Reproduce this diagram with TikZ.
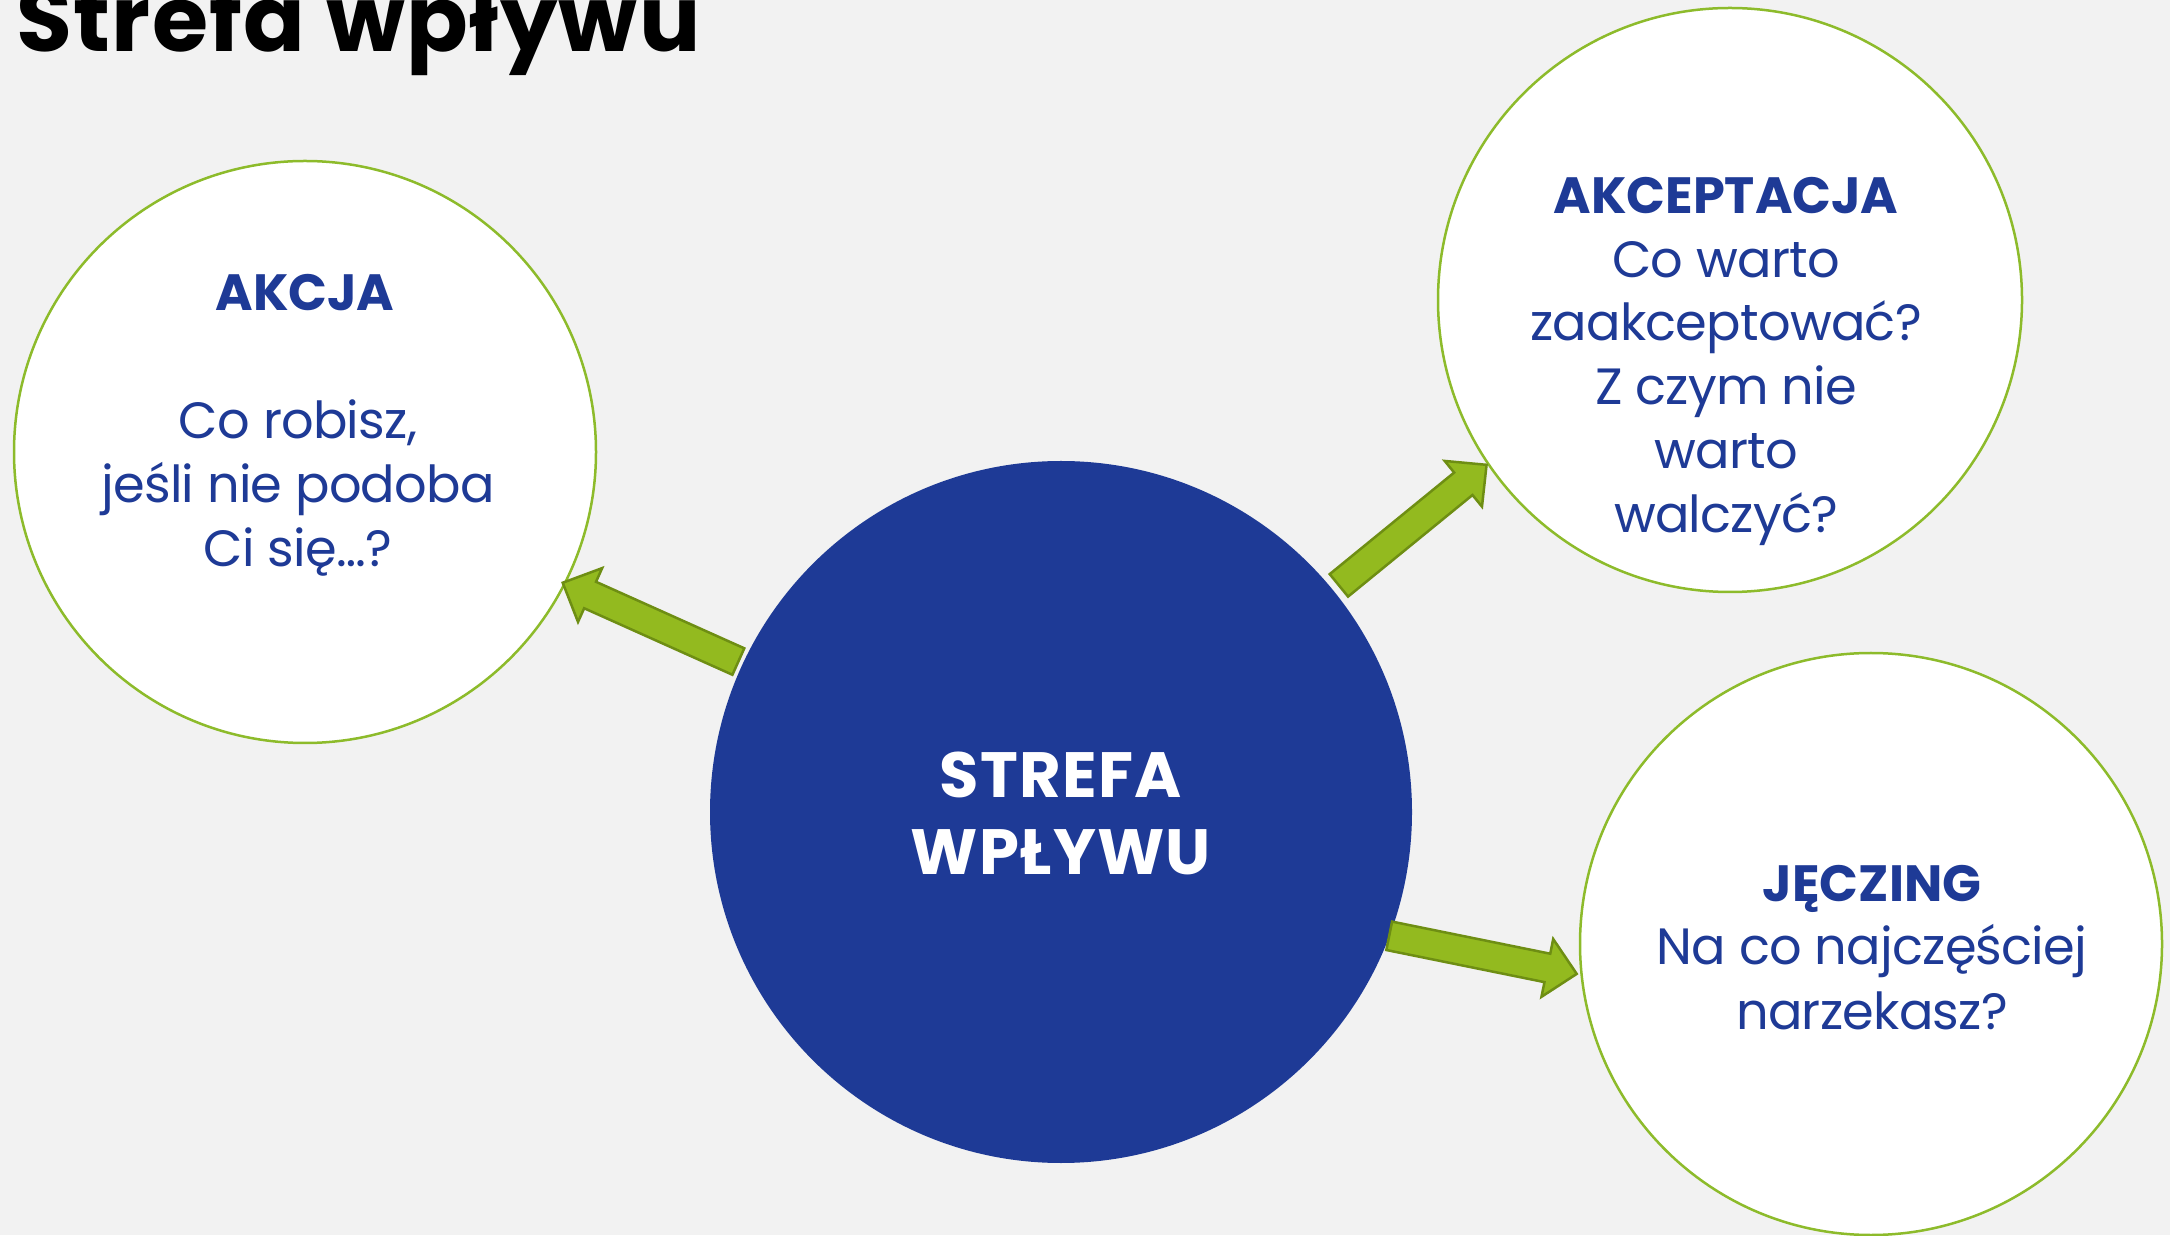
\documentclass[tikz,border=0pt]{standalone}
\usepackage{fontspec}
\setmainfont{Poppins}
\newfontfamily\bodyfont[LetterSpace=-1.5]{Poppins}
\newfontfamily\titlefont[LetterSpace=1.5]{Poppins}
\newfontfamily\corefont[LetterSpace=2]{Poppins}
\usetikzlibrary{calc}
\definecolor{bgc}{HTML}{F2F2F2}
\definecolor{navy}{HTML}{1E3A96}
\definecolor{ringgreen}{HTML}{8DBB2B}
\definecolor{arrowfill}{HTML}{93BA1F}
\definecolor{arrowline}{HTML}{6E8E13}
\tikzset{
  ring/.style={circle, draw=ringgreen, line width=2.5pt, fill=white, inner sep=0pt, outer sep=0pt},
  core/.style={circle, fill=navy, inner sep=0pt, outer sep=0pt},
  body/.style={inner sep=0pt, anchor=base, text=navy, font=\bodyfont\fontsize{51}{64}\selectfont},
  head/.style={inner sep=0pt, anchor=base, text=navy, font=\fontsize{51}{64}\selectfont\bfseries},
  corehead/.style={inner sep=0pt, anchor=base, text=white, font=\corefont\fontsize{64}{76}\selectfont\bfseries},
  blockarrowstyle/.style={fill=arrowfill, draw=arrowline, line width=2.5pt, line join=miter}
}
\newcommand\blockarrow[2]{%
  \coordinate (bah) at ($(#2)!30pt!(#1)$);
  \filldraw[blockarrowstyle] ($(#1)!14.5pt!90:(#2)$) -- ($(bah)!14.5pt!90:(#2)$) -- ($(bah)!29.5pt!90:(#2)$) -- (#2) -- ($(bah)!29.5pt!-90:(#2)$) -- ($(bah)!14.5pt!-90:(#2)$) -- ($(#1)!14.5pt!-90:(#2)$) -- cycle;
}
\begin{document}
\begin{tikzpicture}[x=1pt,y=1pt]
\fill[bgc] (0,0) rectangle (2170,1235);
\useasboundingbox (0,0) rectangle (2170,1235);

% title
\node[inner sep=0pt, anchor=base west, font=\titlefont\fontsize{91}{96}\selectfont\bfseries] (title) at (16,1183) {Strefa wpływu};

% circles
\node[ring, minimum size=582pt] (akcja) at (305,783) {};
\node[ring, minimum size=584pt] (akcep) at (1730,935) {};
\node[ring, minimum size=582pt] (jecz) at (1871,291) {};
\node[core, minimum size=702pt] (strefa) at (1061,423) {};

% arrow end points
\coordinate (t1) at ($(strefa.center)+(155:356pt)$);
\coordinate (p1) at ($(akcja.center)+(-26.9:289pt)$);
\coordinate (t2) at ($(strefa.center)+(39.2:358.6pt)$);
\coordinate (p2) at ($(akcep.center)+(214.1:294pt)$);
\coordinate (t3) at ($(strefa.center)+(-20.67:350.8pt)$);
\coordinate (p3) at ($(jecz.center)+(185.8:295.8pt)$);
\blockarrow{t1}{p1}
\blockarrow{t2}{p2}
\blockarrow{t3}{p3}

% texts left
\node[head] (akcjaT) at (305,924) {AKCJA};
\node[body] (akcja1) at (298,796.5) {Co robisz,};
\node[body] (akcja2) at (298,732) {jeśli nie podoba};
\node[body] (akcja3) at (298,668) {Ci się…?};

% texts top right
\node[head] (akcepT) at (1726,1021.5) {AKCEPTACJA};
\node[body] (akcep1) at (1726,957.5) {Co warto};
\node[body] (akcep2) at (1726,894) {zaakceptować?};
\node[body] (akcep3) at (1726,830) {Z czym nie};
\node[body] (akcep4) at (1726,766) {warto};
\node[body] (akcep5) at (1726,702) {walczyć?};

% texts bottom right
\node[head] (jeczT) at (1872,334) {JĘCZING};
\node[body] (jecz1) at (1872,270.5) {Na co najczęściej};
\node[body] (jecz2) at (1872,206) {narzekasz?};

% center
\node[corehead] (strefa1) at (1061,437.3) {STREFA};
\node[corehead] (strefa2) at (1061,361) {WPŁYWU};
\end{tikzpicture}
\end{document}
